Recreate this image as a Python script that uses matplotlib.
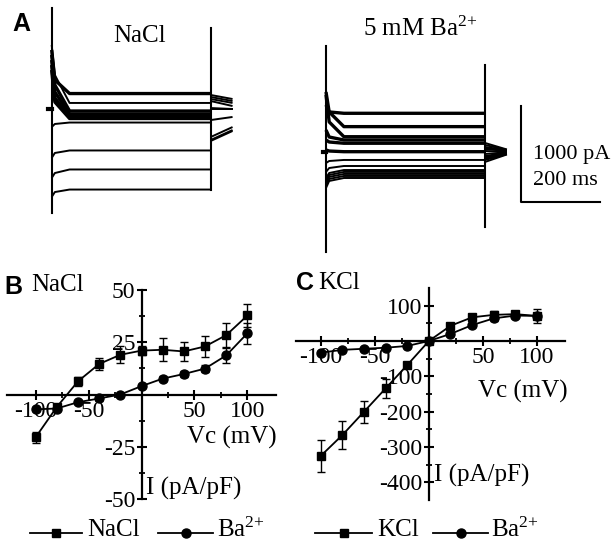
import numpy as np
import matplotlib.pyplot as plt

plt.rcParams['font.family'] = 'Liberation Serif'
plt.rcParams['mathtext.fontset'] = 'custom'
plt.rcParams['mathtext.rm'] = 'Liberation Serif'
plt.rcParams['mathtext.it'] = 'Liberation Serif:italic'
plt.rcParams['axes.unicode_minus'] = False

# ---------------- panel A: current traces (ms, pA) ----------------
step_end = 400          # ms
tail_end = 455          # ms
# NaCl traces: current at onset, early knee, steady state, tail start, tail end
na_on   = [615, 667, 563, 510, 458, 406, -188, -510, -719, -917]
na_knee = [302, 354, 250, 177, 115, 73, -156, -458, -667, -865]
na_ss   = [161, 63, -21, -52, -78, -99, -141, -432, -630, -839]
na_t0   = [146, 125, 104, 83, 10, 0, -115, -292, -323, -333]
na_t1   = [104, 83, 63, 31, 0, 0, -83, -188, -219, -229]
na_noisy = [True, False, True, True, True, True, False, False, False, False]
na_cap_on = [1052, -1083]
na_cap_off = [844, -844]

# 5 mM Ba2+ traces
ba_on   = [490, 625, 594, 229, 125, 21, -115, -208, -271, -302, -333, -354, -375]
ba_knee = [417, 417, 313, 156, 104, 10, -94, -167, -219, -240, -260, -281, -302]
ba_ss   = [403, 264, 159, 125, 91, 3, -83, -146, -188, -208, -229, -250, -271]
ba_t0   = [94, 73, 52, 42, 31, 10, -21, -42, -52, -63, -73, -83, -104]
ba_t1   = [26, 22, 18, 14, 10, 4, -2, -8, -12, -16, -20, -23, -26]
ba_noisy = [True, True, True, True, True, True, False, False, False, False, False, False, False]
ba_cap_on = [1104, -1042]
ba_cap_off = [906, -781]

# ---------------- panels B, C: I-V curves ----------------
vc = [-100, -80, -60, -40, -20, 0, 20, 40, 60, 80, 100]
b_nacl = [-20.5, -6, 6.3, 14.6, 19, 21, 21.4, 20.6, 23, 28.4, 37.8]
b_nacl_err = [2.5, 1.5, 2, 3, 4, 2, 5.4, 4.4, 5, 6, 5.5]
b_ba = [-7.1, -6.7, -3.7, -1.9, 0, 4, 7.6, 9.8, 12.4, 18.7, 29.3]
b_ba_err = [1, 1, 1, 1, 0.8, 1, 1.2, 1.5, 1.5, 3.8, 4.9]
c_kcl = [-325, -266, -200, -134, -68, 0, 43, 67, 74, 76, 71]
c_kcl_err = [45, 39, 31, 26, 8, 3, 8, 10, 12, 10, 19]
c_ba = [-33, -25, -22, -19, -14, 0, 20, 45, 64, 72, 71]
c_ba_err = [5, 4, 3, 3, 3, 2, 5, 6, 8, 8, 8]

BA = 'Ba$^{\\text{2+}}$'

W, H = 613, 546
fig = plt.figure(figsize=(W / 100, H / 100), dpi=100)
fig.patch.set_facecolor('white')


def px_axes(x0, y0, x1, y1):
    # axes placed by pixel box (top-left origin)
    return fig.add_axes([x0 / W, 1 - y1 / H, (x1 - x0) / W, (y1 - y0) / H])


def draw_traces(ax, on, knee, ss, t0, t1, noisy, cap_on, cap_off):
    for i in range(len(on)):
        lw = 2.4 if noisy[i] else 1.4
        ax.plot([0, 8, 45, step_end], [on[i], knee[i], ss[i], ss[i]],
                color='black', lw=lw, solid_capstyle='butt')
        ax.plot([step_end, tail_end], [t0[i], t1[i]], color='black', lw=1.4,
                solid_capstyle='butt')
    ax.plot([-8, 0], [0, 0], color='black', lw=3)
    ax.plot([0, 0], cap_on, color='black', lw=1.5)
    ax.plot([step_end, step_end], cap_off, color='black', lw=1.5)
    ax.axis('off')


axA1 = px_axes(0, 0, 300, 255)
axA1.set_xlim(-130, 624.7)
axA1.set_ylim(-1520.8, 1135.4)
draw_traces(axA1, na_on, na_knee, na_ss, na_t0, na_t1, na_noisy, na_cap_on, na_cap_off)

axA2 = px_axes(300, 0, 613, 255)
axA2.set_xlim(-65.4, 722)
axA2.set_ylim(-1073, 1583)
draw_traces(axA2, ba_on, ba_knee, ba_ss, ba_t0, ba_t1, ba_noisy, ba_cap_on, ba_cap_off)
# scale bar
axA2.plot([490, 490, 690], [479, -521, -521], color='black', lw=1.5)
axA2.text(521, -31, '1000 pA', fontsize=16, va='center', ha='left')
axA2.text(521, -292, '200 ms', fontsize=16, va='center', ha='left')


def iv_axes(ax, xlim, ylim, xt, xmin, yt, ymin):
    ax.set_xlim(*xlim)
    ax.set_ylim(*ylim)
    ax.patch.set_visible(False)
    for s in ['top', 'right']:
        ax.spines[s].set_visible(False)
    ax.spines['left'].set_position(('data', 0))
    ax.spines['bottom'].set_position(('data', 0))
    for s in ['left', 'bottom']:
        ax.spines[s].set_linewidth(1.6)
    ax.set_xticks(xt)
    ax.set_xticklabels([str(v) for v in xt])
    ax.set_xticks(xmin, minor=True)
    ax.set_yticks(yt)
    ax.set_yticklabels([str(v) for v in yt])
    ax.set_yticks(ymin, minor=True)
    ax.tick_params(which='major', direction='inout', length=7, width=1.5,
                   labelsize=17, pad=1)
    ax.tick_params(which='minor', direction='inout', length=5, width=1.3)


axB = px_axes(7, 290, 276, 499)
iv_axes(axB, (-127, 127), (-50, 50), [-100, -50, 50, 100], [-75, -25, 25, 75],
        [-50, -25, 25, 50], [-37.5, -12.5, 12.5, 37.5])
axB.errorbar(vc, b_nacl, yerr=b_nacl_err, fmt='-s', color='black', ms=6, lw=1.3,
             elinewidth=1, capsize=3, clip_on=False)
axB.errorbar(vc, b_ba, yerr=b_ba_err, fmt='-o', color='black', ms=6.5, lw=1.3,
             elinewidth=1, capsize=3, clip_on=False)

axC = px_axes(296, 288, 565, 500)
iv_axes(axC, (-123, 126), (-450, 150), [-100, -50, 50, 100], [-75, -25, 25, 75],
        [-400, -300, -200, -100, 100], [-350, -250, -150, -50, 50])
axC.errorbar(vc, c_kcl, yerr=c_kcl_err, fmt='-s', color='black', ms=6, lw=1.3,
             elinewidth=1, capsize=3, clip_on=False)
axC.errorbar(vc, c_ba, yerr=c_ba_err, fmt='-o', color='black', ms=6.5, lw=1.3,
             elinewidth=1, capsize=3, clip_on=False)

# overlay in pixel coordinates for labels and legends
ov = fig.add_axes([0, 0, 1, 1])
ov.set_xlim(0, W)
ov.set_ylim(H, 0)
ov.axis('off')
ov.patch.set_visible(False)

bold = dict(family='Liberation Sans', fontweight='bold', fontsize=18)
ov.text(12, 24, 'A', va='center', ha='left', **bold)
ov.text(140, 36, 'NaCl', fontsize=18, va='center', ha='center')
ov.text(363, 29, '5 mM ' + BA, fontsize=18, va='center', ha='left')

ov.text(4, 287, 'B', va='center', ha='left', **bold)
ov.text(31, 285, 'NaCl', fontsize=18, va='center', ha='left')
ov.text(296, 283, 'C', va='center', ha='left', **bold)
ov.text(318, 283, 'KCl', fontsize=18, va='center', ha='left')

ov.text(277, 437, 'Vc (mV)', fontsize=18, va='center', ha='right')
ov.text(146, 488, 'I (pA/pF)', fontsize=18, va='center', ha='left')
ov.text(568, 391, 'Vc (mV)', fontsize=18, va='center', ha='right')
ov.text(434, 475, 'I (pA/pF)', fontsize=18, va='center', ha='left')

# legends: line start, line end, marker, label, label x
legend_items = [
    (30, 82, 's', 'NaCl', 87), (158, 213, 'o', BA, 217),
    (315, 372, 's', 'KCl', 377), (433, 488, 'o', BA, 491),
]
for x0, x1, mk, lab, tx in legend_items:
    ov.plot([x0, x1], [533, 533], color='black', lw=1.3)
    ov.plot([(x0 + x1) / 2], [533], marker=mk, color='black',
            ms=6.5 if mk == 'o' else 6)
    ov.text(tx, 530, lab, fontsize=18, va='center', ha='left')

fig.savefig('out.png', dpi=100)
